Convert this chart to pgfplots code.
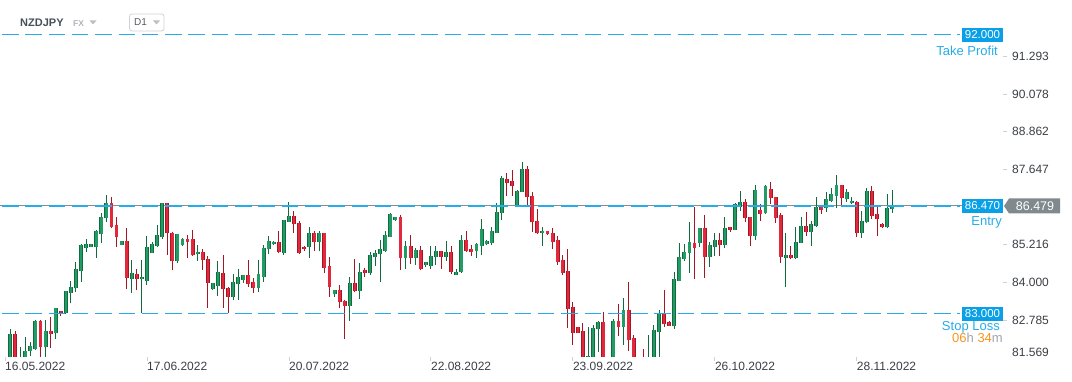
\documentclass[border=0pt]{standalone}
\usepackage{fontspec}
\setmainfont{Liberation Sans}
\usepackage{pgfplots}
\usepackage{pgfplotstable}
\pgfplotsset{compat=1.18}
\definecolor{gfill}{RGB}{34,156,100}
\definecolor{gline}{RGB}{16,108,62}
\definecolor{rfill}{RGB}{226,40,60}
\definecolor{rline}{RGB}{165,22,36}
\definecolor{lvl}{RGB}{38,172,232}
\definecolor{lvlbox}{RGB}{10,160,232}
\definecolor{cur}{RGB}{140,140,140}
\definecolor{curbox}{RGB}{128,138,142}
\definecolor{txt}{RGB}{58,62,68}
\definecolor{orng}{RGB}{247,148,29}
\definecolor{lgray}{RGB}{160,165,170}

\pgfplotstableread{
x O H L C
0 81.20 81.55 80.90 81.45
1 81.45 82.50 81.35 82.34
3 81.45 81.92 81.30 81.55
4 81.55 82.25 81.45 81.80
5 81.80 82.09 81.64 81.94
6 81.87 82.79 81.82 82.76
8 81.92 82.79 81.50 82.44
10 82.36 83.19 82.18 83.17
12 83.03 83.73 82.99 83.72
13 83.67 84.05 83.33 83.85
14 83.81 84.65 83.71 84.43
15 84.38 85.23 84.03 85.21
16 85.13 85.40 85.00 85.23
17 85.16 85.24 85.14 85.23
18 85.16 85.70 84.80 85.66
19 85.58 86.23 85.29 86.11
20 86.07 86.82 85.94 86.56
23 85.22 85.34 85.21 85.33
25 84.13 84.72 83.65 84.30
27 84.10 84.72 83.01 84.17
28 84.06 85.50 83.92 85.15
29 84.96 85.32 84.95 85.23
30 85.19 85.86 85.16 85.53
31 85.48 86.58 85.41 86.56
34 84.70 85.58 84.64 85.56
35 85.21 85.43 85.19 85.41
38 84.91 85.21 84.70 84.98
41 83.78 83.99 83.77 83.97
42 83.90 84.70 83.58 84.33
45 83.55 84.28 83.44 84.01
46 83.95 84.44 83.44 84.17
47 84.08 84.25 83.97 84.24
50 83.84 84.73 83.71 84.28
51 84.19 85.21 84.03 85.10
52 85.07 85.50 84.91 85.34
53 85.23 85.34 85.22 85.30
55 84.96 86.02 84.89 86.01
56 85.96 86.61 85.95 86.15
60 85.14 85.79 84.80 85.59
62 85.30 85.66 85.03 85.59
65 83.62 83.76 83.55 83.75
68 83.26 84.18 82.76 83.99
70 83.74 84.62 83.47 84.33
72 84.30 84.99 84.24 84.88
73 84.84 85.05 84.55 84.94
74 84.91 85.37 84.03 85.08
75 85.03 85.66 84.99 85.52
76 85.48 86.25 85.46 86.20
77 86.02 86.11 86.00 86.10
79 84.80 85.34 84.44 85.17
81 84.80 85.10 84.57 85.05
83 84.58 84.66 84.50 84.65
84 84.54 85.18 84.44 84.86
85 84.81 85.18 84.57 85.02
87 84.84 85.34 84.70 84.99
89 84.25 84.44 84.24 84.33
90 84.33 85.53 84.32 85.37
93 85.03 85.27 84.80 85.24
94 85.19 86.05 84.89 85.72
95 85.23 85.37 85.21 85.34
96 85.29 85.78 85.21 85.66
97 85.61 86.56 85.60 86.28
98 86.23 87.44 86.02 87.36
101 86.45 86.97 86.44 86.96
102 86.93 87.88 86.92 87.66
106 85.59 85.78 85.19 85.66
115 81.35 82.56 81.20 81.62
116 81.40 82.63 81.30 82.52
117 82.49 82.75 81.77 82.74
120 81.45 82.81 81.35 82.76
122 82.58 83.51 81.99 83.11
127 81.30 82.31 81.20 81.55
128 81.45 82.63 81.35 82.47
129 82.42 83.11 81.60 83.00
132 82.61 84.33 82.50 84.10
133 84.06 85.27 84.05 84.84
134 84.77 85.24 84.71 84.97
135 84.94 85.96 84.32 85.30
137 85.27 85.76 85.16 85.75
139 84.81 85.32 84.51 85.21
140 85.16 85.59 84.87 85.37
142 85.21 86.13 85.12 85.75
144 85.71 86.58 85.70 86.53
145 86.45 86.95 86.32 86.59
148 85.51 87.15 85.37 86.99
150 86.23 87.15 86.22 87.11
154 84.80 85.59 83.87 84.89
156 84.80 85.80 84.75 85.32
157 85.29 86.13 85.28 85.82
159 85.64 85.99 85.19 85.88
160 85.83 86.76 85.78 86.45
162 86.39 86.91 86.29 86.70
163 86.64 87.04 86.59 86.86
164 86.80 87.47 86.39 87.15
166 86.68 87.02 86.59 86.91
167 86.56 86.75 86.55 86.63
169 85.59 86.31 85.45 85.99
170 85.94 87.04 85.91 86.95
174 85.78 86.86 85.77 86.39
175 86.37 86.98 86.25 86.48
}\G

\pgfplotstableread{
x O H L C
2 82.34 82.44 81.30 81.45
7 82.76 82.78 81.50 81.92
9 82.44 82.89 81.90 82.35
11 83.08 83.09 82.93 83.03
21 86.56 86.75 85.75 85.80
22 85.85 86.10 85.14 85.46
24 85.33 85.75 83.78 84.16
26 84.27 84.43 83.75 84.10
32 86.56 86.58 84.89 85.59
33 85.61 85.64 84.41 84.71
36 85.41 85.54 84.80 85.32
37 85.41 85.70 84.87 84.89
39 84.98 85.07 84.40 84.73
40 84.76 84.86 83.19 84.00
43 84.30 84.89 83.19 83.78
44 83.81 83.85 83.03 83.55
48 84.24 84.73 83.87 83.95
49 84.01 84.14 83.65 83.84
54 85.30 85.66 84.94 85.00
57 86.15 86.31 85.61 85.88
58 85.91 85.99 84.93 84.94
59 85.15 85.19 85.03 85.07
61 85.59 85.66 85.03 85.32
63 85.59 85.60 84.30 84.48
64 84.53 84.83 83.55 83.87
66 83.75 83.92 83.17 83.36
67 83.41 83.44 82.17 83.26
69 83.99 84.76 83.68 83.73
71 84.41 84.46 84.19 84.32
78 86.10 86.18 84.41 84.80
80 85.17 85.53 84.61 84.80
82 85.05 85.18 84.41 84.44
86 85.02 85.03 84.44 84.84
88 84.99 85.18 84.28 84.35
91 85.37 85.66 84.99 85.03
92 85.08 85.21 84.86 84.99
99 87.34 87.54 86.80 87.22
100 87.28 87.63 86.80 87.13
103 87.66 87.77 86.45 86.77
104 86.79 86.91 85.64 85.94
105 85.99 86.36 85.58 85.59
107 85.66 85.67 85.55 85.56
108 85.59 85.75 85.08 85.32
109 85.37 85.50 84.57 84.67
110 84.73 84.88 84.24 84.32
111 84.37 85.08 82.55 83.16
112 83.20 83.36 81.98 82.38
113 82.56 82.57 82.37 82.38
114 82.44 82.69 81.30 81.40
118 82.74 83.04 81.40 81.50
119 81.45 81.55 81.20 81.35
121 82.76 83.31 82.28 82.58
123 83.11 84.02 81.79 82.14
124 82.20 82.31 81.40 81.50
125 81.50 81.55 81.20 81.40
126 81.50 81.86 81.20 81.35
130 82.97 83.76 82.58 82.65
131 82.74 82.75 82.60 82.61
136 85.27 86.45 84.10 85.13
138 85.75 86.18 84.14 84.81
141 85.37 85.59 84.87 85.21
143 85.79 85.80 85.64 85.71
146 86.59 86.70 85.96 86.07
147 86.10 86.11 85.19 85.51
149 86.33 86.52 85.99 86.22
151 87.02 87.23 86.53 86.74
152 86.75 86.77 85.93 86.09
153 86.18 86.23 84.64 84.83
155 84.89 85.18 84.75 84.80
158 85.82 86.27 85.51 85.64
161 86.45 86.46 86.21 86.34
165 87.15 87.16 86.48 86.72
168 86.61 86.62 85.48 85.59
171 86.95 87.11 86.04 86.16
172 86.20 86.47 85.51 86.04
173 85.88 85.91 85.77 85.78
}\R

\pgfplotsset{
  candle/.style n args={2}{draw=none, mark=none, forget plot,
    error bars/.cd, y dir=plus, y explicit, error mark=none,
    error bar style={draw=#1, line width=#2, solid, opacity=1}},
  level/.style={lvl, line width=1.7pt, dash pattern=on 16.5pt off 6.8pt, dash phase=-2pt, forget plot},
}

\begin{document}
\begin{tikzpicture}[x=1pt,y=1pt]
\begin{axis}[
  name=ax,
  scale only axis, width=1003pt, height=357pt,
  xmin=-0.986, xmax=196.84, ymin=81.599, ymax=93.115,
  axis line style={draw=none},
  xtick={0,28,56,84,112,140,168},
  xticklabels={16.05.2022,17.06.2022,20.07.2022,22.08.2022,23.09.2022,26.10.2022,28.11.2022},
  ytick={82.785,84.000,85.216,87.647,88.862,90.078,91.293},
  yticklabels={82.785,84.000,85.216,87.647,88.862,90.078,91.293},
  xtick pos=bottom, ytick pos=right, yticklabel pos=right,
  tick align=outside, major tick length=4pt,
  tick style={draw=black!18, line width=0.8pt},
  xticklabel style={font=\fontsize{12}{14}\selectfont, text=txt, anchor=west, inner sep=0pt, yshift=-5pt},
  yticklabel style={font=\fontsize{12}{14}\selectfont, text=txt, anchor=west, inner sep=0pt, xshift=5pt},
  clip=true,
]
% current price line
\addplot[cur, line width=0.8pt, forget plot] coordinates {(-0.986,86.479) (196.84,86.479)};
% wicks
\addplot[candle={gline}{1pt}] table[x=x, y=L, y error plus expr=\thisrow{H}-\thisrow{L}] {\G};
\addplot[candle={rline}{1pt}] table[x=x, y=L, y error plus expr=\thisrow{H}-\thisrow{L}] {\R};
% bodies
\addplot[candle={gline}{3.9pt}] table[x=x, y=O, y error plus expr=\thisrow{C}-\thisrow{O}] {\G};
\addplot[candle={gfill}{2.5pt}] table[x=x, y=O, y error plus expr=\thisrow{C}-\thisrow{O}] {\G};
\addplot[candle={rline}{3.9pt}] table[x=x, y=C, y error plus expr=\thisrow{O}-\thisrow{C}] {\R};
\addplot[candle={rfill}{2.5pt}] table[x=x, y=C, y error plus expr=\thisrow{O}-\thisrow{C}] {\R};
% levels
\addplot[level] coordinates {(-0.986,92) (188.4,92)};
\addplot[level] coordinates {(-0.986,86.47) (188.4,86.47)};
\addplot[level] coordinates {(-0.986,83) (188.4,83)};
\end{axis}

\pgfresetboundingbox
\begin{scope}[shift={([yshift=-25pt]ax.south west)}]
\path[use as bounding box] (0,0) rectangle (1072,382);
% header
\node[anchor=west, inner sep=0pt, font=\fontsize{11}{12}\selectfont\bfseries, text={rgb,255:red,70;green,80;blue,90}] at (20,359) {NZDJPY};
\node[anchor=west, inner sep=0pt, font=\fontsize{8.5}{10}\selectfont\bfseries, text={rgb,255:red,175;green,180;blue,190}] at (73,358.5) {FX};
\fill[black!25] (89.5,361.5) -- (96.5,361.5) -- (93,357.5) -- cycle;
\draw[black!18, rounded corners=2.5pt, line width=0.8pt] (129.5,351) rectangle (164,368);
\node[anchor=west, inner sep=0pt, font=\fontsize{10}{12}\selectfont, text={rgb,255:red,85;green,90;blue,95}] at (134,359.5) {D1};
\fill[black!25] (153,361.5) -- (160,361.5) -- (156.5,357.5) -- cycle;
% TP
\fill[lvlbox] (962,340.4) rectangle (1003,354.4);
\node[font=\fontsize{11.5}{12}\selectfont, text=white, inner sep=0pt] at (982.5,347.4) {92.000};
\node[anchor=east, inner sep=0pt, font=\fontsize{13}{14}\selectfont, text=lvl] at (998,331) {Take Profit};
% Entry
\fill[lvlbox] (962,169) rectangle (1003,183);
\node[font=\fontsize{11.5}{12}\selectfont, text=white, inner sep=0pt] at (982.5,176) {86.470};
\fill[curbox] (1004,176) -- (1009,183.5) -- (1060,183.5) -- (1060,168.5) -- (1009,168.5) -- cycle;
\node[font=\fontsize{12.5}{13}\selectfont, text=white, inner sep=0pt] at (1035,176) {86.479};
\node[anchor=east, inner sep=0pt, font=\fontsize{13}{14}\selectfont, text=lvl] at (1002,160) {Entry};
% SL
\fill[lvlbox] (962,61.4) rectangle (1003,75.4);
\node[font=\fontsize{11.5}{12}\selectfont, text=white, inner sep=0pt] at (982.5,68.4) {83.000};
\node[anchor=east, inner sep=0pt, font=\fontsize{13}{14}\selectfont, text=lvl] at (1000,55) {Stop Loss};
\node[anchor=east, inner sep=0pt, font=\fontsize{13}{14}\selectfont] at (1003,44) {\textcolor{orng}{06}\textcolor{lgray}{h} \textcolor{orng}{34}\textcolor{lgray}{m}};
% clamped bottom label
\node[anchor=west, inner sep=0pt, font=\fontsize{12}{14}\selectfont, text=txt] at (1012,30) {81.569};
\end{scope}
\end{tikzpicture}
\end{document}
